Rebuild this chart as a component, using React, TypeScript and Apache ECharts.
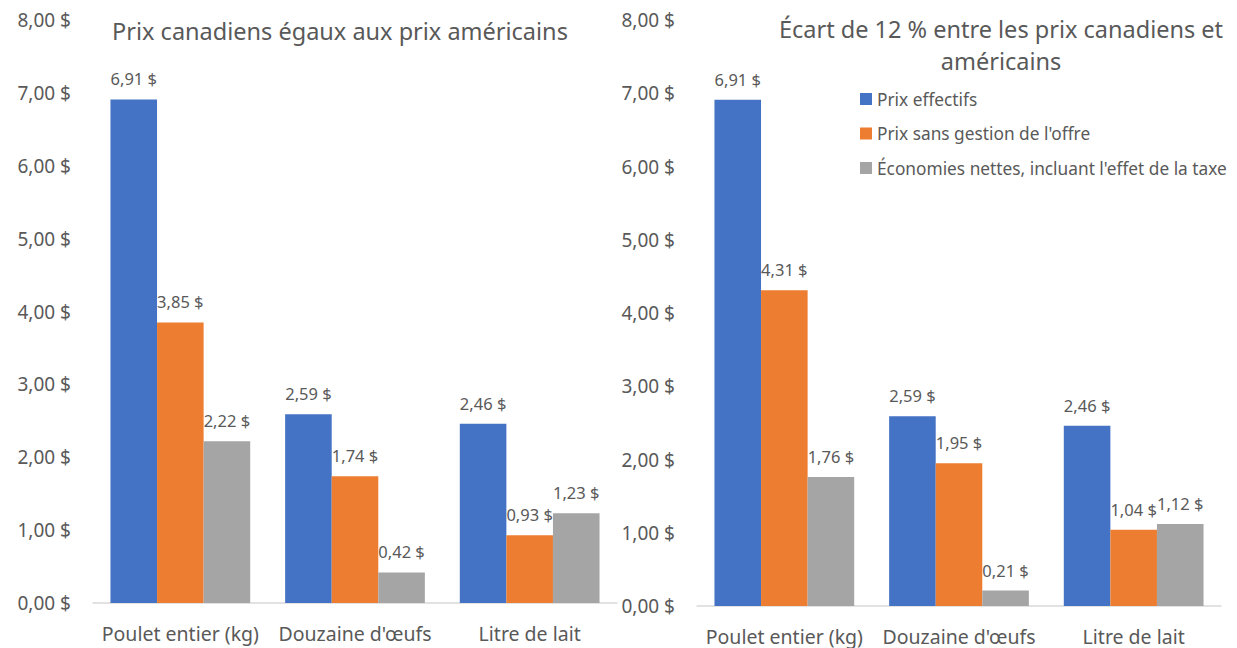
import React, { useEffect, useRef } from "react";
import * as echarts from "echarts";

// Categories and values for the two price scenarios
const categories = ["Poulet entier (kg)", "Douzaine d'œufs", "Litre de lait"];
const seriesNames = [
  "Prix effectifs",
  "Prix sans gestion de l'offre",
  "Économies nettes, incluant l'effet de la taxe",
];

// Scenario 1: Canadian prices equal to US prices
const egauxEffectifs = [6.91, 2.59, 2.46];
const egauxSansGestion = [3.85, 1.74, 0.93];
const egauxEconomies = [2.22, 0.42, 1.23];

// Scenario 2: 12 % gap between Canadian and US prices
const ecartEffectifs = [6.91, 2.59, 2.46];
const ecartSansGestion = [4.31, 1.95, 1.04];
const ecartEconomies = [1.76, 0.21, 1.12];

const colors = ["#4472C4", "#ED7D31", "#A5A5A5"];
const FONT = "'Noto Sans', 'Open Sans', sans-serif";
const TEXT = "#595959";

const money = (v: number) => v.toFixed(2).replace(".", ",") + " $";

function makeSeries(values: number[][], axisIndex: number) {
  return values.map((data, i) => ({
    name: seriesNames[i],
    type: "bar",
    xAxisIndex: axisIndex,
    yAxisIndex: axisIndex,
    data,
    barGap: "0%",
    barCategoryGap: "20%",
    itemStyle: { color: colors[i] },
    label: {
      show: true,
      position: "top",
      distance: 12,
      color: TEXT,
      fontFamily: FONT,
      fontSize: 16.5,
      formatter: (p: any) => money(p.value),
    },
  }));
}

function yAxis(gridIndex: number) {
  return {
    type: "value",
    gridIndex,
    min: 0,
    max: 8,
    interval: 1,
    splitLine: { show: false },
    axisLine: { show: false },
    axisTick: { show: false },
    axisLabel: {
      color: TEXT,
      fontFamily: FONT,
      fontSize: 19,
      margin: 22,
      formatter: (v: number) => money(v),
    },
  };
}

function xAxis(gridIndex: number) {
  return {
    type: "category",
    gridIndex,
    data: categories,
    axisLine: { lineStyle: { color: "#D9D9D9", width: 1.5 } },
    axisTick: { show: false },
    axisLabel: {
      color: TEXT,
      fontFamily: FONT,
      fontSize: 19.5,
      margin: 20,
      interval: 0,
    },
  };
}

export default function App() {
  const ref = useRef<HTMLDivElement>(null);

  useEffect(() => {
    if (!ref.current) return;
    const chart = echarts.init(ref.current, undefined, { renderer: "svg" });
    chart.setOption({
      animation: false,
      backgroundColor: "#FFFFFF",
      title: [
        {
          text: "Prix canadiens égaux aux prix américains",
          left: 335,
          top: 14,
          textAlign: "center",
          textStyle: {
            color: TEXT,
            fontFamily: FONT,
            fontSize: 23.5,
            fontWeight: "normal",
          },
        },
        {
          text: "Écart de 12 % entre les prix canadiens et\naméricains",
          left: 996,
          top: 8,
          textAlign: "center",
          textStyle: {
            color: TEXT,
            fontFamily: FONT,
            fontSize: 23.5,
            fontWeight: "normal",
            lineHeight: 32,
          },
        },
      ],
      legend: {
        orient: "vertical",
        left: 855,
        top: 82,
        itemWidth: 12,
        itemHeight: 12,
        itemGap: 10.5,
        icon: "rect",
        data: seriesNames,
        textStyle: {
          color: TEXT,
          fontFamily: FONT,
          fontSize: 17.3,
          lineHeight: 24,
        },
      },
      grid: [
        { left: 93, width: 524, top: 20, height: 583 },
        { left: 697, width: 524, top: 20, height: 586 },
      ],
      xAxis: [xAxis(0), xAxis(1)],
      yAxis: [yAxis(0), yAxis(1)],
      series: [
        ...makeSeries([egauxEffectifs, egauxSansGestion, egauxEconomies], 0),
        ...makeSeries([ecartEffectifs, ecartSansGestion, ecartEconomies], 1),
      ],
    });
    return () => chart.dispose();
  }, []);

  return (
    <div
      ref={ref}
      style={{ position: "fixed", left: 0, top: 0, width: 1237, height: 648 }}
    />
  );
}
